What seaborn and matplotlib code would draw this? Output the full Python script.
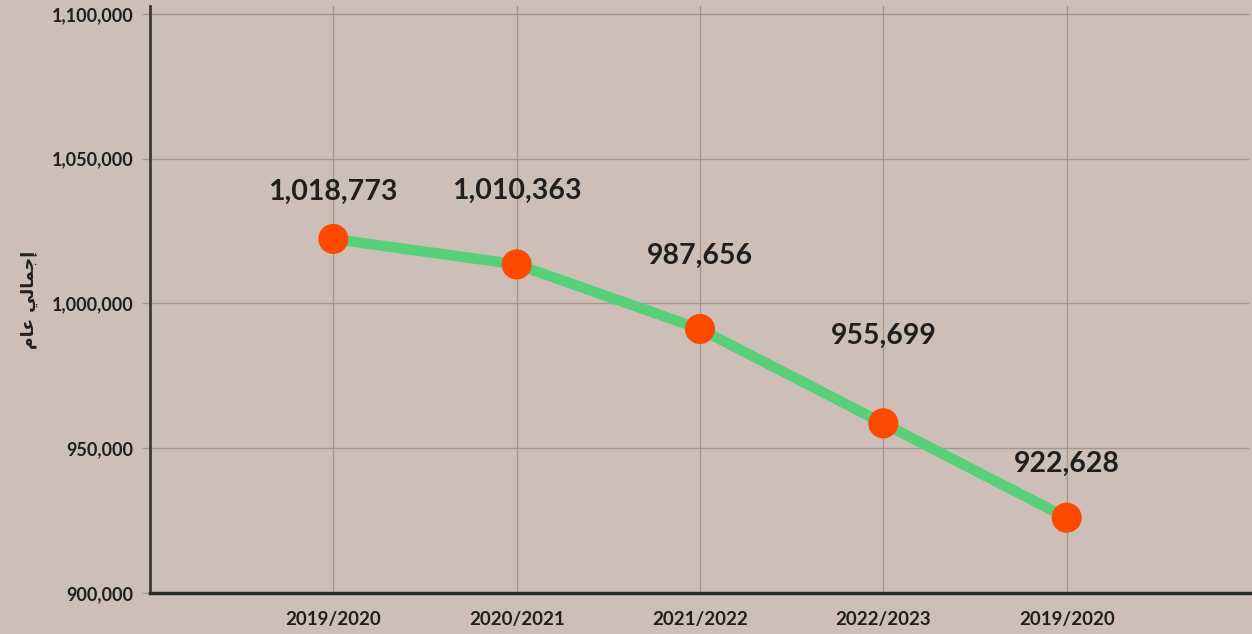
import matplotlib
matplotlib.use("Agg")
import matplotlib.pyplot as plt
import seaborn as sns
import pandas as pd
from matplotlib.ticker import FuncFormatter

# ---- data ----
categories = ["2019/2020", "2020/2021", "2021/2022", "2022/2023", "2019/2020"]
values = [1022300, 1013500, 991200, 958600, 926000]   # plotted marker positions
value_labels = ["1,018,773", "1,010,363", "987,656", "955,699", "922,628"]
y_ticks = [900000, 950000, 1000000, 1050000, 1100000]
y_title = "\uFEE1\uFE8E\uFECB \uFEF2\uFEDF\uFE8E\uFEE4\uFE9F\uFE87"  # إجمالي عام (shaped, visual order)

# ---- style ----
bg = "#cdbfb7"
grid_c = "#a5968e"
text_c = "#1f1f1f"
line_c = "#58cf79"
dot_c = "#fe4a00"
label_offsets_pt = [34, 53, 53, 63, 39]

sns.set_theme(style="white")
plt.rcParams["font.family"] = ["Lato", "DejaVu Sans"]

df = pd.DataFrame({"pos": range(len(categories)), "value": values})

fig = plt.figure(figsize=(12.52, 6.34), dpi=100)
fig.patch.set_facecolor(bg)
ax = fig.add_axes([150 / 1252, 1 - 593 / 634, 1100 / 1252, 587 / 634])
ax.set_facecolor(bg)

sns.lineplot(data=df, x="pos", y="value", ax=ax, color=line_c, linewidth=7.5,
             zorder=3, legend=False)
sns.scatterplot(data=df, x="pos", y="value", ax=ax, color=dot_c, s=470,
                edgecolor="none", zorder=4, legend=False)

for (x, y), lab, off in zip(zip(df["pos"], df["value"]), value_labels, label_offsets_pt):
    ax.annotate(lab, (x, y), xytext=(0, off), textcoords="offset points",
                ha="center", va="center", fontsize=20.5, fontweight="bold",
                color=text_c, zorder=5)

ax.set_xlim(-1, 5)
ax.set_ylim(900000, 1102760)
ax.set_xticks(range(len(categories)))
ax.set_xticklabels(categories)
ax.set_yticks(y_ticks)
ax.yaxis.set_major_formatter(FuncFormatter(lambda v, p: f"{int(v):,}"))

ax.grid(True, color=grid_c, linewidth=1)
ax.set_axisbelow(True)

for lab in ax.get_xticklabels() + ax.get_yticklabels():
    lab.set_fontweight("bold")
    lab.set_color(text_c)
ax.tick_params(axis="x", length=0, pad=13, labelsize=13.5)
ax.tick_params(axis="y", length=6, width=1, color=grid_c, pad=6, labelsize=13, left=True)

for s in ["top", "right"]:
    ax.spines[s].set_visible(False)
ax.spines["left"].set_color("#3a3a3a")
ax.spines["left"].set_linewidth(2)
ax.spines["bottom"].set_color("#2a2a2a")
ax.spines["bottom"].set_linewidth(2.5)

ax.set_xlabel("")
ax.set_ylabel(y_title, fontsize=12.5, fontweight="bold", color=text_c,
              family=["DejaVu Sans"], labelpad=10)

fig.savefig("out.png", dpi=100, facecolor=bg)
